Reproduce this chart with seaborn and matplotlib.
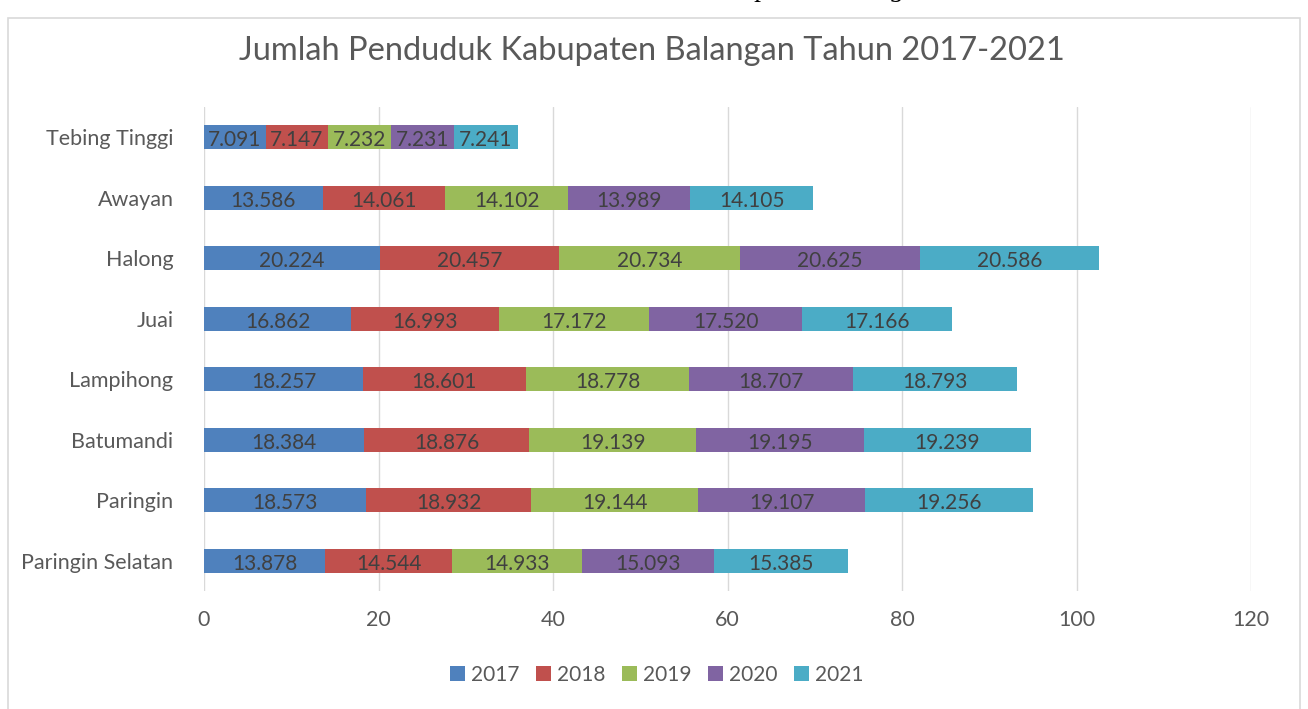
import numpy as np
import pandas as pd
import matplotlib
matplotlib.use("Agg")
import matplotlib.pyplot as plt
from matplotlib.patches import Rectangle, Patch
import seaborn as sns

# Data (population in thousands, labels use Indonesian thousands separator)
kecamatan = ["Tebing Tinggi", "Awayan", "Halong", "Juai", "Lampihong",
             "Batumandi", "Paringin", "Paringin Selatan"]
years = ["2017", "2018", "2019", "2020", "2021"]
v2017 = [7.091, 13.586, 20.224, 16.862, 18.257, 18.384, 18.573, 13.878]
v2018 = [7.147, 14.061, 20.457, 16.993, 18.601, 18.876, 18.932, 14.544]
v2019 = [7.232, 14.102, 20.734, 17.172, 18.778, 19.139, 19.144, 14.933]
v2020 = [7.231, 13.989, 20.625, 17.520, 18.707, 19.195, 19.107, 15.093]
v2021 = [7.241, 14.105, 20.586, 17.166, 18.793, 19.239, 19.256, 15.385]
colors = ["#4F81BD", "#C0504D", "#9BBB59", "#8064A2", "#4BACC6"]

df = pd.DataFrame({"kecamatan": kecamatan, "2017": v2017, "2018": v2018,
                   "2019": v2019, "2020": v2020, "2021": v2021})
cum = df[years].cumsum(axis=1)

sns.set_theme(style="white")
plt.rcParams["font.family"] = ["Lato", "DejaVu Sans"]
text_col = "#595959"

fig = plt.figure(figsize=(13.08, 7.09), dpi=100)
ax = fig.add_axes([204 / 1308, 1 - 591 / 709, 1047 / 1308, 484 / 709])

# stacked bars: draw cumulative totals from the last year backwards
for yr, col in zip(reversed(years), reversed(colors)):
    sns.barplot(x=cum[yr], y=df["kecamatan"], order=kecamatan, orient="h",
                color=col, width=0.4, ax=ax, saturation=1, linewidth=0,
                zorder=2)

for i in range(len(kecamatan)):
    for yr in years:
        val = df.loc[i, yr]
        ax.text(cum.loc[i, yr] - val / 2, i + 0.02, f"{val:.3f}", ha="center",
                va="center_baseline", fontsize=15, color="#404040", zorder=3)

ax.set_xlim(0, 120)
ax.set_xticks(np.arange(0, 121, 20))
ax.set_ylim(len(kecamatan) - 0.5, -0.5)
ax.grid(axis="x", color="#D9D9D9", linewidth=1, zorder=0)
ax.grid(axis="y", visible=False)
for s in ax.spines.values():
    s.set_visible(False)
ax.tick_params(axis="both", length=0, labelsize=15.5, labelcolor=text_col)
ax.tick_params(axis="x", pad=14)
ax.tick_params(axis="y", pad=22)
ax.set_xlabel("")
ax.set_ylabel("")

fig.text(652 / 1308, 1 - 51 / 709, "Jumlah Penduduk Kabupaten Balangan Tahun 2017-2021",
         ha="center", va="center", fontsize=23.5, color=text_col)

handles = [Patch(facecolor=c, edgecolor="none") for c in colors]
fig.legend(handles, years, loc="center", bbox_to_anchor=(657 / 1308, 1 - 675 / 709),
           ncol=5, frameon=False, fontsize=15, handlelength=0.7, handleheight=0.7,
           columnspacing=0.8, handletextpad=0.3, labelcolor=text_col)

# outer chart border and clipped caption above it
fig.patches.append(Rectangle((8 / 1308, -0.02), 1292 / 1308, 1 - 18 / 709 + 0.02,
                             transform=fig.transFigure, fill=False,
                             edgecolor="#D9D9D9", linewidth=1.2))
fig.text(640 / 1308, 1 + 4 / 709, "Gambar 1.1 Jumlah Penduduk Kabupaten Balangan",
         ha="center", va="baseline", fontsize=20, style="italic",
         family="Liberation Serif", color="#000000")

fig.savefig("out.png", dpi=100)
